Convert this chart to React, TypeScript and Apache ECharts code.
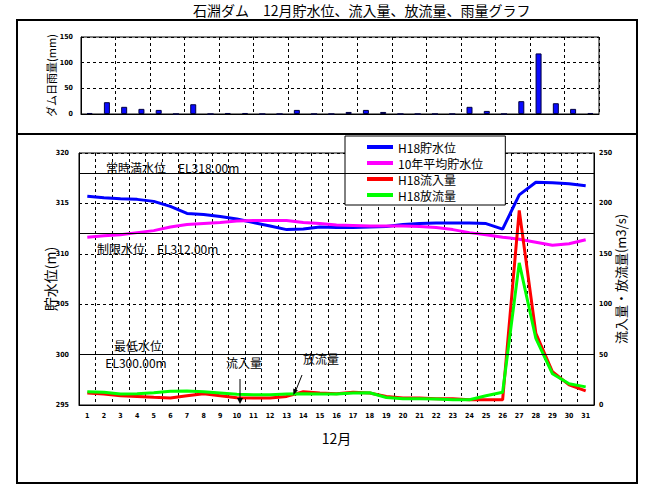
import React, { useEffect, useRef } from "react";
import * as echarts from "echarts";

// ---- data ----
const rainDays = ["1","2","3","4","5","6","7","8","9","10","11","12","13","14","15","16","17","18","19","20","21","22","23","24","25","26","27","28","29","30"];
const rainfall = [2,23,14,10,8,0,19,0,2,2,0,0,8,0,0,4,8,4,0,0,0,0,14,6,0,25,118,21,10,2];

const days = ["1","2","3","4","5","6","7","8","9","10","11","12","13","14","15","16","17","18","19","20","21","22","23","24","25","26","27","28","29","30","31"];
const levelH18 = [315.7,315.55,315.45,315.4,315.2,314.7,314.0,313.9,313.7,313.45,313.1,312.75,312.4,312.45,312.65,312.6,312.6,312.65,312.7,312.9,313.0,313.05,313.05,313.05,313.0,312.45,315.85,317.1,317.05,316.95,316.75];
const levelAvg10 = [311.65,311.8,311.9,312.1,312.3,312.65,312.9,313.0,313.1,313.25,313.3,313.3,313.3,313.1,313.0,312.85,312.8,312.75,312.75,312.75,312.7,312.6,312.4,312.1,311.9,311.65,311.45,311.15,310.85,311.0,311.4];
const inflowH18 = [11.9,10.9,9.2,8.5,7.6,6.9,9.2,11.2,9.2,7.2,6.9,6.9,8.5,13.2,11.9,11.2,12.6,11.9,8.5,6.9,6.9,6.2,6.2,5.2,5.2,5.2,193,71,33,20,14];
const outflowH18 = [13.2,12.6,10.9,11.2,12.2,13.6,13.9,13.2,11.9,10.6,10.2,10.2,10.9,11.2,10.9,10.9,11.9,12.2,7.5,6.2,6.2,5.9,5.2,5.2,9.2,12.6,141,66,31,21,18];

const seriesNames = ["H18貯水位", "10年平均貯水位", "H18流入量", "H18放流量"];
const seriesColors = ["#0000ff", "#ff00ff", "#ff0000", "#00ff00"];
const referenceLevels = [318, 312, 300];

const title = "石淵ダム　12月貯水位、流入量、放流量、雨量グラフ";

const tickFont = {
  fontSize: 7,
  fontFamily: "'Liberation Sans Narrow', 'DejaVu Sans Condensed', 'Liberation Sans', sans-serif",
  fontWeight: "bold" as const,
  color: "#000",
};
const jpFont = "'Noto Sans CJK JP', 'Noto Sans', sans-serif";
const dashed = { color: "#000", width: 1, type: [3, 3] as number[] };

export default function App() {
  const ref = useRef<HTMLDivElement>(null);
  useEffect(() => {
    if (!ref.current) return;
    const chart = echarts.init(ref.current, undefined, { renderer: "svg" });
    const option: any = {
      animation: false,
      backgroundColor: "#fff",
      textStyle: { fontFamily: jpFont },
      title: {
        text: title,
        left: 193,
        top: 3,
        padding: 0,
        textStyle: { fontSize: 14, fontWeight: "normal", color: "#000", fontFamily: jpFont },
      },
      legend: {
        data: seriesNames,
        orient: "vertical",
        left: 345,
        top: 136,
        padding: [5, 22, 4, 22],
        backgroundColor: "#fff",
        borderColor: "#000",
        borderWidth: 1,
        itemWidth: 26,
        itemHeight: 4,
        itemGap: 4,
        icon: "rect",
        textStyle: { fontSize: 12, color: "#000", fontFamily: jpFont },
      },
      grid: [
        { left: 81, top: 37, width: 518, height: 77, show: true, borderColor: "#000", borderWidth: 1, backgroundColor: "#fff" },
        { left: 79, top: 153, width: 515, height: 252, show: true, borderColor: "#000", borderWidth: 1, backgroundColor: "#fff" },
      ],
      xAxis: [
        {
          gridIndex: 0,
          type: "category",
          data: rainDays,
          boundaryGap: true,
          axisLine: { lineStyle: { color: "#000" } },
          axisTick: { show: false },
          axisLabel: { show: false },
          splitLine: { show: true, lineStyle: dashed },
        },
        {
          gridIndex: 1,
          type: "category",
          data: days,
          boundaryGap: true,
          axisLine: { lineStyle: { color: "#000" } },
          axisTick: { show: false },
          axisLabel: { ...tickFont, interval: 0, margin: 7 },
          splitLine: { show: true, lineStyle: dashed },
          name: "12月",
          nameLocation: "middle",
          nameGap: 26,
          nameMoveOverlap: false,
          nameTextStyle: { fontSize: 14, color: "#000", fontFamily: jpFont },
        },
      ],
      yAxis: [
        {
          gridIndex: 0,
          type: "value",
          min: 0,
          max: 150,
          interval: 50,
          axisLine: { show: true, lineStyle: { color: "#000" } },
          axisTick: { show: false },
          axisLabel: { ...tickFont, margin: 8 },
          splitLine: { show: true, lineStyle: dashed },
          name: "ダム日雨量(mm)",
          nameLocation: "middle",
          nameGap: 25,
          nameMoveOverlap: false,
          nameTextStyle: { fontSize: 11, color: "#000", fontFamily: jpFont },
        },
        {
          gridIndex: 1,
          type: "value",
          min: 295,
          max: 320,
          interval: 5,
          axisLine: { show: true, lineStyle: { color: "#000" } },
          axisTick: { show: false },
          axisLabel: { ...tickFont, margin: 10 },
          splitLine: { show: true, lineStyle: dashed },
          name: "貯水位(m)",
          nameLocation: "middle",
          nameGap: 22,
          nameMoveOverlap: false,
          nameTextStyle: { fontSize: 14, color: "#000", fontFamily: jpFont },
        },
        {
          gridIndex: 1,
          type: "value",
          position: "right",
          min: 0,
          max: 250,
          interval: 50,
          axisLine: { show: true, lineStyle: { color: "#000" } },
          axisTick: { show: false },
          axisLabel: { ...tickFont, margin: 5 },
          splitLine: { show: false },
          name: "流入量・放流量(m3/s)",
          nameLocation: "middle",
          nameGap: 20,
          nameMoveOverlap: false,
          nameTextStyle: { fontSize: 13, color: "#000", fontFamily: jpFont },
        },
      ],
      series: [
        {
          name: "ダム日雨量",
          type: "bar",
          xAxisIndex: 0,
          yAxisIndex: 0,
          data: rainfall,
          barWidth: 6,
          itemStyle: { color: "#0a0aff", borderColor: "#000040", borderWidth: 1 },
        },
        {
          name: seriesNames[0],
          type: "line",
          xAxisIndex: 1,
          yAxisIndex: 1,
          data: levelH18,
          symbol: "none",
          lineStyle: { color: seriesColors[0], width: 3 },
          itemStyle: { color: seriesColors[0] },
          markLine: {
            silent: true,
            symbol: ["none", "none"],
            label: { show: false },
            lineStyle: { color: "#000", type: "solid", width: 1 },
            data: referenceLevels.map((v) => ({ yAxis: v })),
          },
        },
        {
          name: seriesNames[1],
          type: "line",
          xAxisIndex: 1,
          yAxisIndex: 1,
          data: levelAvg10,
          symbol: "none",
          lineStyle: { color: seriesColors[1], width: 3 },
          itemStyle: { color: seriesColors[1] },
        },
        {
          name: seriesNames[2],
          type: "line",
          xAxisIndex: 1,
          yAxisIndex: 2,
          data: inflowH18,
          symbol: "none",
          lineStyle: { color: seriesColors[2], width: 3 },
          itemStyle: { color: seriesColors[2] },
        },
        {
          name: seriesNames[3],
          type: "line",
          xAxisIndex: 1,
          yAxisIndex: 2,
          data: outflowH18,
          symbol: "none",
          lineStyle: { color: seriesColors[3], width: 3 },
          itemStyle: { color: seriesColors[3] },
        },
      ],
      graphic: [
        { type: "rect", shape: { x: 17, y: 20, width: 620, height: 463 }, style: { fill: "none", stroke: "#000", lineWidth: 2 } },
        { type: "line", shape: { x1: 17, y1: 134, x2: 637, y2: 134 }, style: { stroke: "#000", lineWidth: 2 } },
        { type: "text", x: 106, y: 167, style: { text: "常時満水位　EL318.00m", fontSize: 12, fill: "#000", fontFamily: jpFont, verticalAlign: "middle" }, z: 10 },
        { type: "text", x: 97, y: 248, style: { text: "制限水位　EL312.00m", fontSize: 12, fill: "#000", fontFamily: jpFont, verticalAlign: "middle" }, z: 10 },
        { type: "text", x: 138, y: 345, style: { text: "最低水位", fontSize: 12, fill: "#000", fontFamily: jpFont, align: "center", verticalAlign: "middle" }, z: 10 },
        { type: "text", x: 136, y: 362, style: { text: "EL300.00m", fontSize: 12, fill: "#000", fontFamily: jpFont, align: "center", verticalAlign: "middle" }, z: 10 },
        { type: "text", x: 226, y: 362, style: { text: "流入量", fontSize: 12, fill: "#000", fontFamily: jpFont, verticalAlign: "middle" }, z: 10 },
        { type: "text", x: 303, y: 358, style: { text: "放流量", fontSize: 12, fill: "#000", fontFamily: jpFont, verticalAlign: "middle" }, z: 10 },
        { type: "line", shape: { x1: 240, y1: 379, x2: 240, y2: 399 }, style: { stroke: "#000", lineWidth: 1 }, z: 10 },
        { type: "polygon", shape: { points: [[237, 398], [243, 398], [240, 404]] }, style: { fill: "#000" }, z: 10 },
        { type: "line", shape: { x1: 302, y1: 375, x2: 296, y2: 390 }, style: { stroke: "#000", lineWidth: 1 }, z: 10 },
        { type: "polygon", shape: { points: [[297.9, 390.2], [293.2, 388.6], [293.5, 395]] }, style: { fill: "#000" }, z: 10 },
      ],
    };
    chart.setOption(option);
    return () => chart.dispose();
  }, []);
  return (
    <div
      ref={ref}
      style={{ position: "absolute", left: 0, top: 0, width: 649, height: 499, background: "#fff" }}
    />
  );
}
